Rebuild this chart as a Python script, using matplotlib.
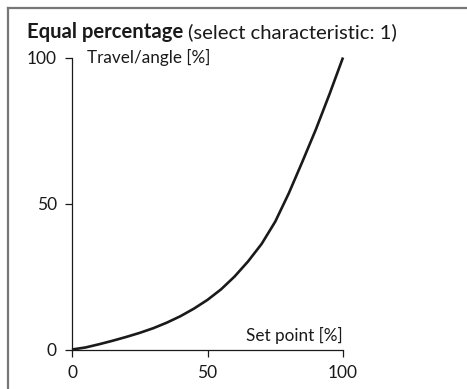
import matplotlib.pyplot as plt
from matplotlib.lines import Line2D

# set point [%] vs travel/angle [%]
set_point = [0, 5, 10, 15, 20, 25, 30, 35, 40, 45, 50, 55, 60, 65, 70, 75, 80, 85, 90, 95, 100]
travel = [0, 0.7, 1.8, 3.0, 4.3, 5.7, 7.3, 9.2, 11.4, 14.0, 17.0, 20.6, 25.0, 30.2, 36.2, 43.8, 53.5, 64.3, 75.4, 87.4, 100]
ticks = [0, 50, 100]

W, H = 467, 389
plt.rcParams['font.family'] = ['Lato', 'DejaVu Sans']
ink = '#1a1a1a'

fig = plt.figure(figsize=(W / 100, H / 100), dpi=100)
ax = fig.add_axes([72 / W, 1 - 349.5 / H, (343 - 72) / W, (349.5 - 57.5) / H])

ax.plot(set_point, travel, color=ink, lw=1.9, solid_joinstyle='round',
        solid_capstyle='butt', clip_on=False)
ax.set_xlim(0, 100)
ax.set_ylim(0, 100)

for s in ['top', 'right']:
    ax.spines[s].set_visible(False)
for s in ['left', 'bottom']:
    ax.spines[s].set_color(ink)
    ax.spines[s].set_linewidth(0.9)

ax.set_xticks(ticks)
ax.set_yticks(ticks)
ax.set_xticks([100], minor=True)
ax.set_yticks([100], minor=True)
ax.tick_params(which='major', direction='out', length=5, width=0.9, color=ink,
               labelsize=12.5, labelcolor=ink, pad=6)
ax.tick_params(which='minor', direction='in', length=5, width=0.9, color=ink)

ax.text(0.055, 1.0, 'Travel/angle [%]', transform=ax.transAxes, fontsize=12.3,
        color=ink, ha='left', va='center')
ax.text(1.0, 0.02, 'Set point [%]', transform=ax.transAxes, fontsize=12.3,
        color=ink, ha='right', va='bottom')

# title
t1 = fig.text(27 / W, 1 - 32 / H, 'Equal percentage', fontsize=14.6, fontweight='bold',
              color=ink, ha='left', va='center')
fig.canvas.draw()
bb = t1.get_window_extent()
fig.text(bb.x1 / W + 5 / W, 1 - 32 / H, '(select characteristic: 1)', fontsize=14.6,
         color=ink, ha='left', va='center')

# frame: top and left edges
fig.add_artist(Line2D([8 / W, 1], [1 - 8 / H, 1 - 8 / H], color='#777777', lw=1.6))
fig.add_artist(Line2D([8 / W, 8 / W], [0, 1 - 8 / H], color='#777777', lw=1.6))

fig.savefig('out.png', dpi=100)
